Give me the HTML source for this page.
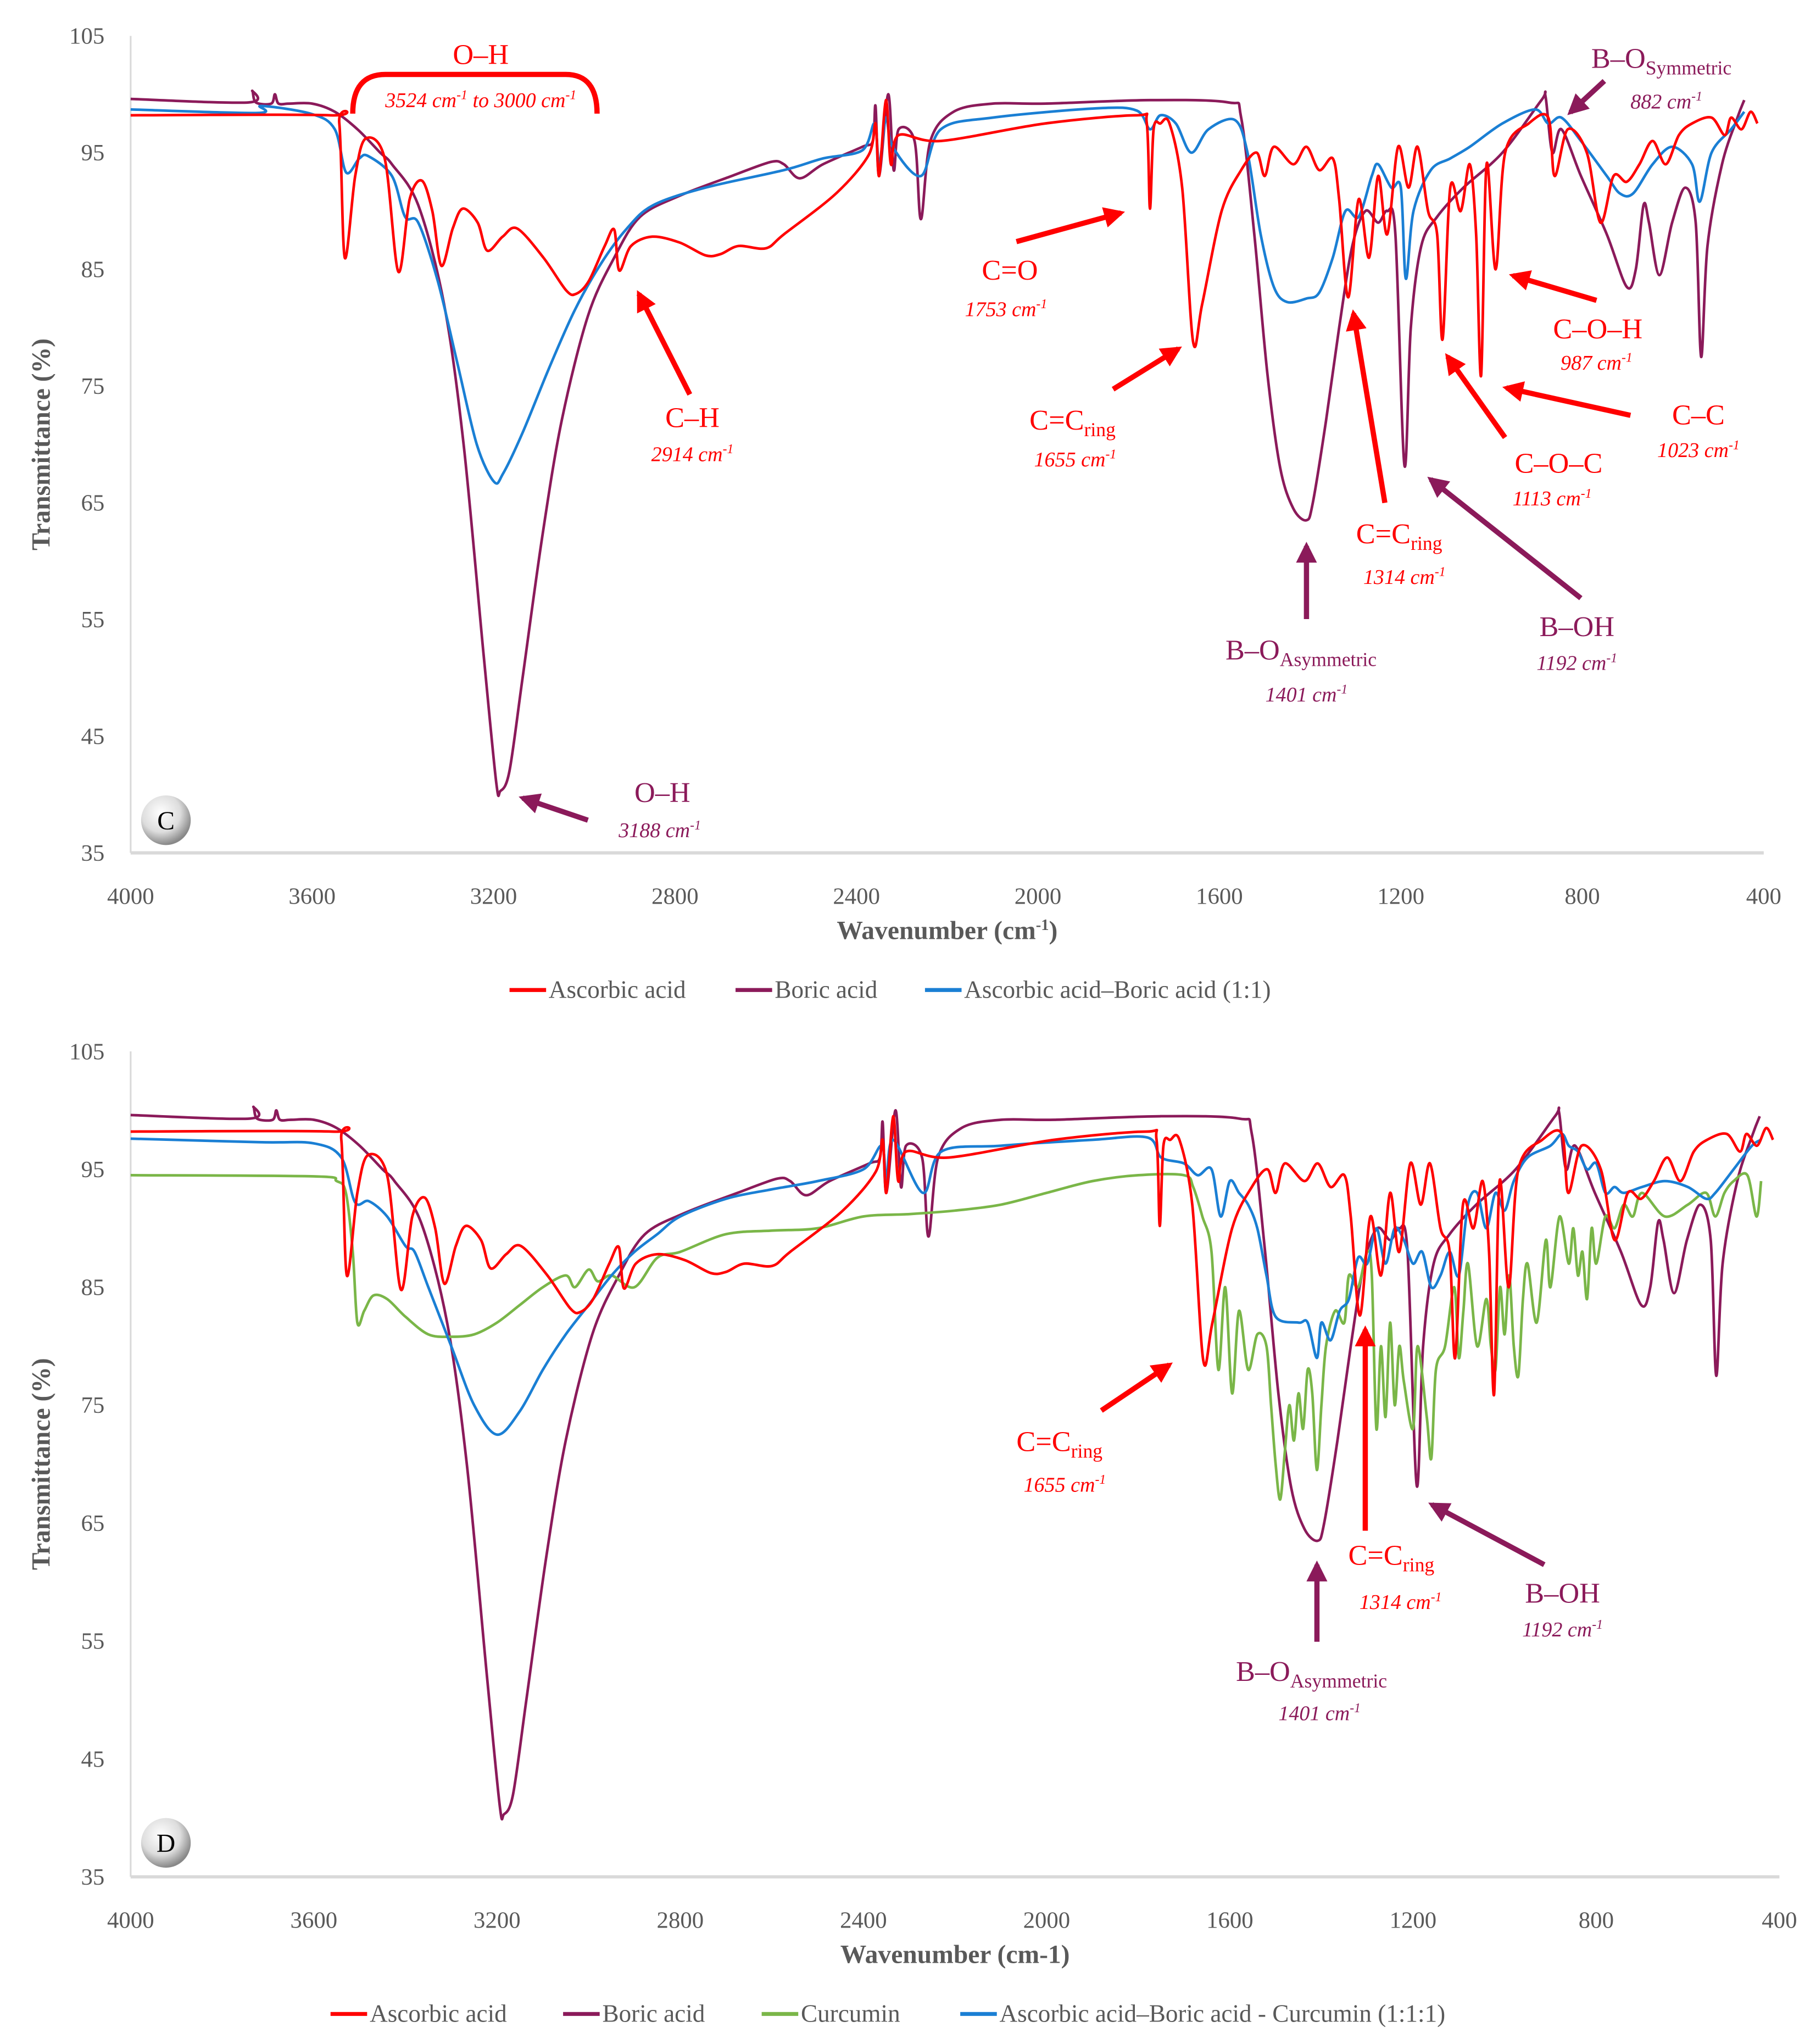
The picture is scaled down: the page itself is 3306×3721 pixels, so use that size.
<!DOCTYPE html>
<html><head><meta charset="utf-8">
<style>
html,body{margin:0;padding:0;background:#fff;}
svg{display:block;}
text{font-family:"Liberation Serif",serif;}
.tick{fill:#595959;font-size:18px;}
.ttl{fill:#595959;font-size:20px;font-weight:bold;}
.leg{fill:#595959;font-size:19px;}
.red{fill:#ff0000;}
.pur{fill:#8b1a5a;}
.lab{font-size:22px;}
.sub{font-size:16px;font-style:italic;}
</style></head>
<body>
<svg id="fig" width="3306" height="3721" viewBox="0 0 1390 1565" preserveAspectRatio="none" xmlns="http://www.w3.org/2000/svg">
<defs>
<marker id="ar" viewBox="0 0 10 10" refX="8" refY="5" markerWidth="4" markerHeight="4" orient="auto"><path d="M0,0L10,5L0,10z" fill="#ff0000"/></marker>
<marker id="ap" viewBox="0 0 10 10" refX="8" refY="5" markerWidth="4" markerHeight="4" orient="auto"><path d="M0,0L10,5L0,10z" fill="#8b1a5a"/></marker>
<radialGradient id="bg" cx="40%" cy="35%" r="65%"><stop offset="0" stop-color="#fff"/><stop offset="0.6" stop-color="#ddd"/><stop offset="1" stop-color="#888"/></radialGradient>
</defs>
<g id="panelC"></g>
<g id="panelD"></g>
<g id="annC">
<text x="368" y="49" text-anchor="middle" class="red lab">O–H</text>
<path d="M270,87 Q270,57 295,57 L433,57 Q457,57 457,87" fill="none" stroke="#ff0000" stroke-width="4"/>
<text x="368" y="82" text-anchor="middle" class="red sub">3524 cm<tspan dy="-6" font-size="10">-1</tspan><tspan dy="6"> to 3000 cm</tspan><tspan dy="-6" font-size="10">-1</tspan></text>
<text x="1218" y="52" class="pur lab">B–O<tspan font-size="15" dy="5">Symmetric</tspan></text>
<text x="1248" y="83" class="pur sub">882 cm<tspan dy="-6" font-size="10">-1</tspan></text>
<line x1="1228" y1="62" x2="1202" y2="86" stroke="#8b1a5a" stroke-width="4" marker-end="url(#ap)"/>
<text x="530" y="327" text-anchor="middle" class="red lab">C–H</text>
<text x="530" y="353" text-anchor="middle" class="red sub">2914 cm<tspan dy="-6" font-size="10">-1</tspan></text>
<line x1="528" y1="302" x2="489" y2="225" stroke="#ff0000" stroke-width="4" marker-end="url(#ar)"/>
<text x="773" y="214" text-anchor="middle" class="red lab">C=O</text>
<text x="770" y="242" text-anchor="middle" class="red sub">1753 cm<tspan dy="-6" font-size="10">-1</tspan></text>
<line x1="778" y1="185" x2="858" y2="163" stroke="#ff0000" stroke-width="4" marker-end="url(#ar)"/>
<text x="788" y="329" class="red lab">C=C<tspan font-size="15" dy="5">ring</tspan></text>
<text x="823" y="357" text-anchor="middle" class="red sub">1655 cm<tspan dy="-6" font-size="10">-1</tspan></text>
<line x1="852" y1="298" x2="902" y2="267" stroke="#ff0000" stroke-width="4" marker-end="url(#ar)"/>
<text x="1223" y="259" text-anchor="middle" class="red lab">C–O–H</text>
<text x="1222" y="283" text-anchor="middle" class="red sub">987 cm<tspan dy="-6" font-size="10">-1</tspan></text>
<line x1="1222" y1="230" x2="1158" y2="211" stroke="#ff0000" stroke-width="4" marker-end="url(#ar)"/>
<text x="1300" y="325" text-anchor="middle" class="red lab">C–C</text>
<text x="1300" y="350" text-anchor="middle" class="red sub">1023 cm<tspan dy="-6" font-size="10">-1</tspan></text>
<line x1="1248" y1="318" x2="1153" y2="297" stroke="#ff0000" stroke-width="4" marker-end="url(#ar)"/>
<text x="1193" y="362" text-anchor="middle" class="red lab">C–O–C</text>
<text x="1188" y="387" text-anchor="middle" class="red sub">1113 cm<tspan dy="-6" font-size="10">-1</tspan></text>
<line x1="1152" y1="335" x2="1108" y2="273" stroke="#ff0000" stroke-width="4" marker-end="url(#ar)"/>
<text x="1038" y="416" class="red lab">C=C<tspan font-size="15" dy="5">ring</tspan></text>
<text x="1075" y="447" text-anchor="middle" class="red sub">1314 cm<tspan dy="-6" font-size="10">-1</tspan></text>
<line x1="1060" y1="385" x2="1036" y2="240" stroke="#ff0000" stroke-width="4" marker-end="url(#ar)"/>
<text x="1207" y="487" text-anchor="middle" class="pur lab">B–OH</text>
<text x="1207" y="513" text-anchor="middle" class="pur sub">1192 cm<tspan dy="-6" font-size="10">-1</tspan></text>
<line x1="1210" y1="458" x2="1095" y2="367" stroke="#8b1a5a" stroke-width="4" marker-end="url(#ap)"/>
<text x="938" y="505" class="pur lab">B–O<tspan font-size="15" dy="5">Asymmetric</tspan></text>
<text x="1000" y="537" text-anchor="middle" class="pur sub">1401 cm<tspan dy="-6" font-size="10">-1</tspan></text>
<line x1="1000" y1="474" x2="1000" y2="418" stroke="#8b1a5a" stroke-width="4" marker-end="url(#ap)"/>
<text x="507" y="614" text-anchor="middle" class="pur lab">O–H</text>
<text x="505" y="641" text-anchor="middle" class="pur sub">3188 cm<tspan dy="-6" font-size="10">-1</tspan></text>
<line x1="450" y1="628" x2="400" y2="611" stroke="#8b1a5a" stroke-width="4" marker-end="url(#ap)"/>
<circle cx="127" cy="628" r="19" fill="url(#bg)"/>
<text x="127" y="635" text-anchor="middle" font-size="20" fill="#000">C</text>
</g>
<g id="annD">
<text x="778" y="1111" class="red lab">C=C<tspan font-size="15" dy="5">ring</tspan></text>
<text x="815" y="1142" text-anchor="middle" class="red sub">1655 cm<tspan dy="-6" font-size="10">-1</tspan></text>
<line x1="843" y1="1080" x2="895" y2="1045" stroke="#ff0000" stroke-width="4" marker-end="url(#ar)"/>
<text x="1032" y="1198" class="red lab">C=C<tspan font-size="15" dy="5">ring</tspan></text>
<text x="1072" y="1232" text-anchor="middle" class="red sub">1314 cm<tspan dy="-6" font-size="10">-1</tspan></text>
<line x1="1045" y1="1172" x2="1045" y2="1018" stroke="#ff0000" stroke-width="4" marker-end="url(#ar)"/>
<text x="1196" y="1227" text-anchor="middle" class="pur lab">B–OH</text>
<text x="1196" y="1253" text-anchor="middle" class="pur sub">1192 cm<tspan dy="-6" font-size="10">-1</tspan></text>
<line x1="1182" y1="1198" x2="1096" y2="1152" stroke="#8b1a5a" stroke-width="4" marker-end="url(#ap)"/>
<text x="946" y="1287" class="pur lab">B–O<tspan font-size="15" dy="5">Asymmetric</tspan></text>
<text x="1010" y="1317" text-anchor="middle" class="pur sub">1401 cm<tspan dy="-6" font-size="10">-1</tspan></text>
<line x1="1008" y1="1257" x2="1008" y2="1198" stroke="#8b1a5a" stroke-width="4" marker-end="url(#ap)"/>
<circle cx="127" cy="1411" r="19" fill="url(#bg)"/>
<text x="127" y="1418" text-anchor="middle" font-size="20" fill="#000">D</text>
</g>
</svg>
<script>
// ---- data ----
const xTicks = [4000,3600,3200,2800,2400,2000,1600,1200,800,400];
const yTicks = [35,45,55,65,75,85,95,105];
const ascWn = [4000,3560,3540,3528,3505,3482,3440,3410,3385,3358,3335,3315,3290,3268,3235,3214,3180,3148,3090,3040,3018,2990,2955,2934,2923,2897,2850,2790,2733,2700,2660,2600,2560,2445,2373,2358,2350,2335,2324,2307,2214,1984,1782,1760,1753,1745,1730,1710,1682,1658,1638,1595,1552,1518,1500,1480,1437,1408,1380,1350,1336,1316,1293,1270,1250,1230,1206,1183,1163,1140,1120,1108,1091,1068,1048,1034,1023,1011,991,970,918,875,861,832,790,760,731,702,674,645,616,587,558,515,486,472,449,429,414];
const ascT  = [98.2,98.2,97.5,86.0,93,96.2,94.5,84.8,91,92.6,90,85.3,88.5,90.2,89,86.6,87.8,88.5,86,83.2,82.9,84,87.0,88.4,84.9,87,87.8,87.3,86.2,86.3,87,86.8,88,91.5,94.8,97.5,93,99.5,94,96.5,96,97.5,98.2,97.5,90.2,97,97.5,97.5,92,78.8,82,90,93.5,95,93,95.5,94,95.5,93.5,94.5,91,82.6,91,86,93,88,95.5,92,95.5,90,88,79,92,90,94,88,75.9,94,85,95,97.5,98,93,97,95,89,93,92.5,94,96,94,96.5,97.5,98,96.5,98,97,98.5,97.5];
const borWn = [4000,3740,3732,3724,3690,3682,3674,3650,3600,3550,3500,3450,3424,3366,3309,3266,3222,3194,3185,3165,3136,3093,3050,2992,2934,2877,2790,2675,2589,2560,2525,2474,2387,2364,2358,2350,2330,2318,2307,2272,2258,2237,2186,2100,1984,1753,1580,1552,1523,1494,1466,1437,1408,1394,1365,1336,1307,1278,1250,1230,1212,1192,1178,1155,1120,1062,976,890,881,866,846,803,746,702,682,665,653,630,602,573,550,538,524,492,458,443];
const borT  = [99.6,99.3,100.3,99.3,99.2,100,99.2,99.2,99.2,98.5,97,95,94,90.5,82,70,52,41,40.3,42,50,62,72,81,86,89.5,91.3,93,94.2,94,92.8,94,95.5,96,99,93,100,93.5,97,96,89.3,96,98.5,99.2,99.2,99.5,99.3,98,88,76,68,64.5,63.5,65,72,80,87,90,89,90,88,68.2,80,87,89.5,92,95,99.5,99.8,95,97,93,88,83.5,85,90.5,89,84.5,89,92,89,77.5,87,94,98,99.5];
const mixWn = [4000,3720,3712,3600,3550,3525,3496,3476,3424,3395,3366,3323,3280,3237,3199,3179,3136,3078,3021,2963,2906,2848,2733,2560,2474,2387,2360,2350,2335,2320,2258,2214,2100,1869,1782,1753,1730,1696,1662,1624,1566,1538,1509,1480,1451,1408,1380,1350,1322,1293,1264,1250,1221,1200,1189,1172,1134,1091,1048,976,904,875,846,803,746,717,688,645,602,558,541,515,472,443];
const mixT  = [98.7,98.4,99,98.3,97,93.3,94.5,94.7,93,89.5,89,84,77,70,66.8,67.5,71,76.5,81.5,85.5,88.5,90.5,92,93.5,94.5,95.2,97.5,94,98,95.5,93,97,98,98.8,98.6,97,98.2,97.5,95,97,97.8,95,88,83.5,82.2,82.5,83,86,90,89.5,93,94,92,92,84.2,90,93.5,94.5,95.5,97.5,98.7,97.5,98,96,93,91.5,91.5,94,95.5,94,90.8,95,97,98.5];
const triWn = [4000,3720,3600,3540,3510,3480,3440,3400,3380,3350,3300,3250,3200,3150,3100,3050,3000,2950,2900,2850,2800,2700,2600,2500,2400,2360,2350,2335,2270,2230,2100,1900,1780,1750,1700,1670,1640,1620,1600,1580,1560,1540,1520,1500,1450,1430,1410,1400,1380,1360,1340,1320,1300,1280,1260,1240,1220,1200,1180,1160,1140,1120,1100,1080,1060,1040,1020,1000,980,950,900,875,860,840,820,800,780,760,740,700,650,600,560,540,500,460,440];
const triT  = [97.6,97.3,97.2,96,92.2,92.3,91,88.5,88,85,80,75,72.5,74.5,78,81,83.5,86,88,89.5,91,92.5,93.3,94,95,97,94,97.5,93,96.5,97,97.5,97.7,96,95.5,94.5,95,91,94,93,92,90,86,82.5,82,82,79,82,80.5,83,84,87.5,87,90,87,90,89,87,88,85,86,88,86,92,93,90,93,91.5,94,96,97,98,97,96.5,95,95.5,93,93.5,93,93.5,94,93.5,92.5,93,95,97,97.5];
const curWn = [4000,3600,3550,3530,3515,3505,3490,3470,3440,3400,3350,3300,3250,3200,3150,3100,3050,3030,3000,2980,2950,2900,2850,2800,2700,2600,2500,2400,2300,2200,2100,2000,1900,1800,1700,1680,1660,1640,1625,1610,1595,1580,1560,1540,1520,1510,1500,1490,1480,1470,1460,1450,1440,1430,1420,1410,1400,1390,1370,1350,1340,1320,1300,1290,1280,1270,1260,1250,1240,1230,1220,1200,1190,1170,1160,1150,1130,1110,1100,1090,1080,1060,1040,1030,1020,1010,1000,990,980,970,960,950,930,910,900,880,860,850,840,830,820,810,800,780,760,740,720,700,650,600,560,540,520,500,470,450,440];
const curT  = [94.5,94.4,94,93,88,82,83,84.3,84,82.5,81,80.8,81,82,83.5,85,86,85,86.5,85.5,86,85,87.5,88,89.5,89.8,90,91,91.2,91.5,92,93,94,94.5,94.5,93.5,91,88,78,85,76,83,78,81,80,75,70,67,71,75,72,76,73,78,76,69.5,75,80,83,82,86,85,88,86,73,80,74,82,75,80,77,73,80,74,70.5,78,80,85,79,83,87,80,84,80,78,85,81,86,80,77.5,84,87,82,89,85,91,87,90,86,88,84,90,87,91,90,92,91,93,91,92,93,91,93,94,94.5,91,94];

// ---- layout (viewBox units) ----
const svg = document.getElementById('fig');
const NS = 'http://www.w3.org/2000/svg';
function mk(tag, attrs, parent){const e=document.createElementNS(NS,tag);for(const k in attrs)e.setAttribute(k,attrs[k]);parent.appendChild(e);return e;}
function axes(x0,x1,y0,y1){
  return {x:w=>x0+(4000-w)/3600*(x1-x0), y:t=>y0+(105-t)/70*(y1-y0)};
}
function pathD(wn,tv,ax){
  const p=wn.map((w,i)=>[ax.x(w),ax.y(tv[i])]);
  let d='M'+p[0][0].toFixed(2)+','+p[0][1].toFixed(2);
  for(let i=0;i<p.length-1;i++){
    const p0=p[Math.max(0,i-1)],p1=p[i],p2=p[i+1],p3=p[Math.min(p.length-1,i+2)];
    const t=0.16;
    const c1=[p1[0]+(p2[0]-p0[0])*t,p1[1]+(p2[1]-p0[1])*t];
    const c2=[p2[0]-(p3[0]-p1[0])*t,p2[1]-(p3[1]-p1[1])*t];
    d+='C'+c1[0].toFixed(2)+','+c1[1].toFixed(2)+' '+c2[0].toFixed(2)+','+c2[1].toFixed(2)+' '+p2[0].toFixed(2)+','+p2[1].toFixed(2);
  }
  return d;
}
function panel(g,x0,x1,y0,y1,series,xtitle,legY,legItems){
  const ax=axes(x0,x1,y0,y1);
  const yl=mk('line',{x1:x0,y1:y0,x2:x0,y2:y1,stroke:'#d9d9d9','stroke-width':1.3},g);
  
  
  const xl=mk('line',{x1:x0,y1:y1,x2:x1,y2:y1,stroke:'#d9d9d9','stroke-width':2.5},g);
  
  
  yTicks.forEach(v=>{
    const t=mk('text',{x:x0-20,y:ax.y(v)+6,'text-anchor':'end',class:'tick'},g);t.textContent=v;
    
    
  });
  xTicks.forEach(v=>{
    const t=mk('text',{x:ax.x(v),y:y1+39,'text-anchor':'middle',class:'tick'},g);t.textContent=v;
    
    
  });
  series.forEach(s=>{
    const p=mk('path',{d:pathD(s.wn,s.t,ax),fill:'none',stroke:s.c,'stroke-width':2,'stroke-linejoin':'round'},g);
    
    
  });
  const xt=mk('text',{x:(x0+x1)/2,y:y1+66,'text-anchor':'middle',class:'ttl'},g);
  xt.innerHTML=xtitle;
  
  
  const yt=mk('text',{x:0,y:0,'text-anchor':'middle',class:'ttl',transform:'translate(38,'+((y0+y1)/2)+') rotate(-90)'},g);
  yt.textContent='Transmittance (%)';
  
  
  legItems.forEach(it=>{
    const l=mk('line',{x1:it.x,y1:legY,x2:it.x+28,y2:legY,stroke:it.c,'stroke-width':3},g);
    
    
    const t=mk('text',{x:it.x+30,y:legY+6,class:'leg'},g);t.textContent=it.label;
    
    
  });
}
const RED='#ff0000',PUR='#8b1a5a',BLU='#1a7fd4',GRN='#7ab648';
panel(document.getElementById('panelC'),100,1350,27.5,653,
 [{wn:borWn,t:borT,c:PUR,name:'boric-acid-line'},{wn:mixWn,t:mixT,c:BLU,name:'ascorbic-boric-line'},{wn:ascWn,t:ascT,c:RED,name:'ascorbic-acid-line'}],
 'Wavenumber (cm<tspan dy="-7" font-size="12">-1</tspan><tspan dy="7">)</tspan>',758,
 [{x:390,c:RED,label:'Ascorbic acid'},{x:563,c:PUR,label:'Boric acid'},{x:708,c:BLU,label:'Ascorbic acid–Boric acid (1:1)'}]);
panel(document.getElementById('panelD'),100,1362,805,1437,
 [{wn:borWn,t:borT,c:PUR,name:'boric-acid-line'},{wn:curWn,t:curT,c:GRN,name:'curcumin-line'},{wn:triWn,t:triT,c:BLU,name:'ascorbic-boric-curcumin-line'},{wn:ascWn,t:ascT,c:RED,name:'ascorbic-acid-line'}],
 'Wavenumber (cm-1)',1542,
 [{x:253,c:RED,label:'Ascorbic acid'},{x:431,c:PUR,label:'Boric acid'},{x:583,c:GRN,label:'Curcumin'},{x:735,c:BLU,label:'Ascorbic acid–Boric acid - Curcumin (1:1:1)'}]);
</script>
</body></html>
